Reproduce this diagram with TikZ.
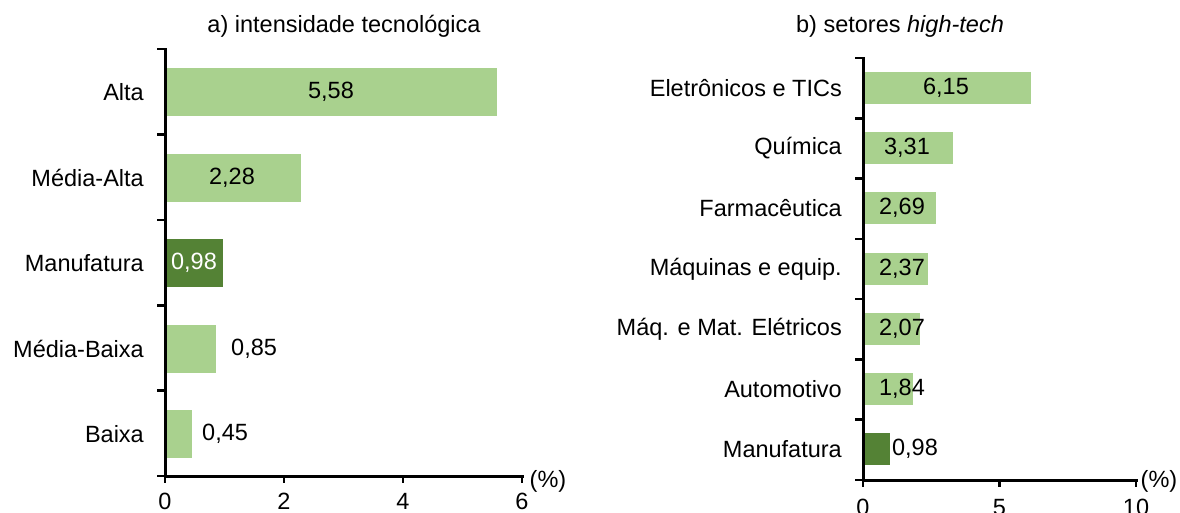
\documentclass[tikz,border=0pt]{standalone}
\usepackage{fontspec}
\setmainfont{Liberation Sans}
\definecolor{lightbar}{HTML}{A9D18E}
\definecolor{darkbar}{HTML}{548235}
\begin{document}
\begin{tikzpicture}[x=1pt,y=-1pt,
  txt/.style={inner sep=0pt, font=\fontsize{23.5}{27}\selectfont},
  ttl/.style={txt},
  cat/.style={txt, anchor=east},
  val/.style={txt},
  axis/.style={line width=3pt, line cap=rect},
  tickline/.style={line width=2.6pt},
  lbar/.style={fill=lightbar, draw=none},
  dbar/.style={fill=darkbar, draw=none}]
\useasboundingbox (0,0) rectangle (1180,512);
% ---------------- chart a ----------------
\node[ttl] (ta) at (344,26) {a) intensidade tecnológica};
% bars
\path[lbar] (165,68) rectangle (165+5.58*59.5,116);
\path[lbar] (165,153.5) rectangle (165+2.28*59.5,201.5);
\path[dbar] (165,239) rectangle (165+0.98*59.5,287);
\path[lbar] (165,324.5) rectangle (165+0.85*59.5,372.5);
\path[lbar] (165,410) rectangle (165+0.45*59.5,458);
% values
\node[val] (va1) at (331,92) {5,58};
\node[val] (va2) at (232,177.5) {2,28};
\node[val, text=white] (va3) at (194,263) {0,98};
\node[val, anchor=west] (va4) at (231,348.5) {0,85};
\node[val, anchor=west] (va5) at (202,434) {0,45};
% categories
\node[cat] (ca1) at (144,92) {Alta};
\node[cat] (ca2) at (144,177.5) {Média-Alta};
\node[cat] (ca3) at (144,263) {Manufatura};
\node[cat] (ca4) at (144,348.5) {Média-Baixa};
\node[cat] (ca5) at (144,434) {Baixa};
% axes
\draw[axis] (165,49) -- (165,476) -- (522,476);
\foreach \y in {49,134.4,219.8,305.2,390.6,476} \draw[tickline] (157,\y) -- (165,\y);
\foreach \x/\l in {0/0,2/2,4/4,6/6} {
  \draw[tickline] (165+\x*59.5,476) -- (165+\x*59.5,483);
  \node[txt, anchor=north] at (165+\x*59.5,493) {\l};
}
\node[txt] (pa) at (548,481) {(\%)};
% ---------------- chart b ----------------
\node[ttl] (tb) at (900,26) {b) setores \textit{high-tech}};
\path[lbar] (863,72) rectangle (863+6.15*27.3,104);
\path[lbar] (863,132) rectangle (863+3.31*27.3,164);
\path[lbar] (863,192) rectangle (863+2.69*27.3,224);
\path[lbar] (863,253) rectangle (863+2.37*27.3,285);
\path[lbar] (863,313) rectangle (863+2.07*27.3,345);
\path[lbar] (863,373) rectangle (863+1.84*27.3,405);
\path[dbar] (863,433) rectangle (863+0.98*27.3,465);
\node[val] (vb1) at (946,88) {6,15};
\node[val] (vb2) at (907,148) {3,31};
\node[val] (vb3) at (902,208) {2,69};
\node[val] (vb4) at (902,269) {2,37};
\node[val] (vb5) at (902,329) {2,07};
\node[val] (vb6) at (902,389) {1,84};
\node[val] (vb7) at (915,449) {0,98};
\node[cat] (cb1) at (842,88) {Eletrônicos e TICs};
\node[cat] (cb2) at (842,148) {Química};
\node[cat] (cb3) at (842,208) {Farmacêutica};
\node[cat] (cb4) at (842,269) {Máquinas e equip.};
\node[cat] (cb5) at (842,329) {Máq. e Mat. Elétricos};
\node[cat] (cb6) at (842,389) {Automotivo};
\node[cat] (cb7) at (842,449) {Manufatura};
\draw[axis] (863,58) -- (863,480) -- (1136,480);
\foreach \y in {58,118.3,178.6,238.9,299.1,359.4,419.7,480} \draw[tickline] (855,\y) -- (863,\y);
\foreach \x/\l in {0/0,5/5,10/10} {
  \draw[tickline] (863+\x*27.3,480) -- (863+\x*27.3,487);
  \node[txt, anchor=north] at (863+\x*27.3,499) {\l};
}
\node[txt] (pb) at (1159,481) {(\%)};
\end{tikzpicture}
\end{document}
